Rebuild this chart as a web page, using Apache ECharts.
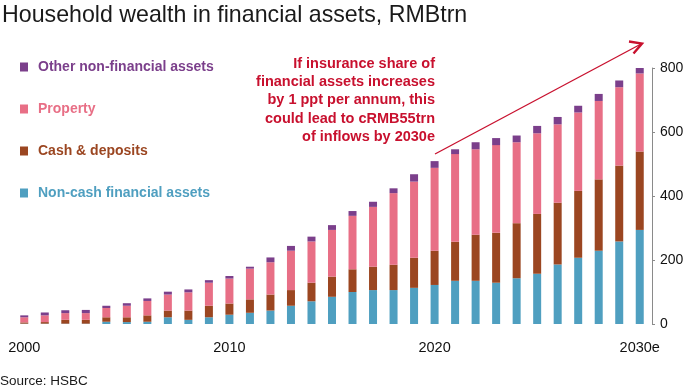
<!DOCTYPE html>
<html>
<head>
<meta charset="utf-8">
<script src="https://cdn.jsdelivr.net/npm/echarts@6/dist/echarts.min.js"></script>
<style>
html,body{margin:0;padding:0;background:#fff;}
#chart{width:695px;height:390px;}
</style>
</head>
<body>
<div id="chart"></div>
<script>
// ---- Data (RMBtrn) ----
const years = ['2000','2001','2002','2003','2004','2005','2006','2007','2008','2009',
  '2010','2011','2012','2013','2014','2015','2016','2017','2018','2019',
  '2020','2021','2022','2023','2024','2025','2026','2027','2028','2029','2030e'];
const nonCashFinancial = [1,1,1,1,7,6,7,21,13,21,29,35,42,57,71,85,100,106,106,113,122,135,135,129,143,157,186,207,229,258,294];
const cashDeposits    = [4,5,12,12,14,15,20,21,29,36,35,42,50,49,58,63,71,73,79,94,107,122,144,156,172,187,193,209,223,237,245];
const property        = [16,21,21,21,29,36,45,50,57,72,78,96,101,123,129,146,167,187,224,238,259,274,267,274,253,252,245,245,245,245,244];
const otherNonFin     = [6,9,9,10,7,8,8,9,9,8,8,6,15,15,15,15,15,16,15,23,21,15,22,22,21,23,23,21,22,21,21];
const yTicks = [0,200,400,600,800];
const seriesNames = ['Non-cash financial assets','Cash & deposits','Property','Other non-financial assets'];
const titleText = 'Household wealth in financial assets, RMBtrn';
const noteLines = ['If insurance share of','financial assets increases','by 1 ppt per annum, this','could lead to cRMB55trn','of inflows by 2030e'];
const sourceText = 'Source: HSBC';

const colors = {
  'Non-cash financial assets':'#4f9fc0',
  'Cash & deposits':'#9b4621',
  'Property':'#e86f86',
  'Other non-financial assets':'#7b3f8b'
};
const REG = "'Liberation Sans',Arial,sans-serif";
const RED = '#c8102e';

const chart = echarts.init(document.getElementById('chart'), null, {renderer:'canvas'});
const dataArr = [nonCashFinancial, cashDeposits, property, otherNonFin];

const series = seriesNames.map((n,i)=>({
  name:n, type:'bar', stack:'total', barWidth:8,
  data:dataArr[i],
  itemStyle:{color:colors[n]},
  emphasis:{disabled:true}
}));

const legendOrder = ['Other non-financial assets','Property','Cash & deposits','Non-cash financial assets'];

const graphics = [
  {type:'text', left:2, top:4, style:{text:titleText, font:"normal 23.2px "+REG, fill:'#1a1a1a'}},
  {type:'text', left:0, top:374, style:{text:sourceText, font:"normal 13.5px "+REG, fill:'#1a1a1a'}}
];
const lineYs = [63.5, 82, 100.3, 118.6, 137];
noteLines.forEach((t,i)=>{
  graphics.push({type:'text', x:435, y:lineYs[i], style:{text:t, font:"bold 14.5px "+REG, fill:RED, textAlign:'right', textVerticalAlign:'middle'}});
});
graphics.push({type:'line', shape:{x1:435, y1:154, x2:641, y2:44}, style:{stroke:RED, lineWidth:1.3}});
graphics.push({type:'polyline', shape:{points:[[629,41.5],[642,43.5],[633.5,53.5]]}, style:{stroke:RED, lineWidth:2.4, fill:null}});

chart.setOption({
  animation:false,
  backgroundColor:'#fff',
  grid:{left:14, right:45, top:68, bottom:66, containLabel:false},
  legend:{
    orient:'vertical', left:20, top:59, itemGap:26, padding:0,
    icon:'rect', itemWidth:8, itemHeight:9,
    selectedMode:false,
    data:legendOrder.map(n=>({name:n, textStyle:{color:colors[n]}})),
    textStyle:{fontFamily:REG, fontWeight:'bold', fontSize:14, lineHeight:16, padding:[0,0,0,5]}
  },
  xAxis:{
    type:'category', data:years,
    axisLine:{show:false}, axisTick:{show:false},
    axisLabel:{interval:(i)=> i%10===0, margin:16, color:'#111', fontFamily:REG, fontSize:14.5}
  },
  yAxis:{
    type:'value', position:'right', offset:2, min:0, max:800, interval:200,
    axisLine:{show:true, lineStyle:{color:'#8a8a8a', width:1}},
    axisTick:{show:true, length:3, lineStyle:{color:'#8a8a8a'}},
    splitLine:{show:false},
    axisLabel:{margin:8, color:'#111', fontFamily:REG, fontSize:14,
      formatter:(v)=> yTicks.includes(v) ? String(v) : ''}
  },
  graphic:graphics,
  series:series
});
</script>
</body>
</html>
